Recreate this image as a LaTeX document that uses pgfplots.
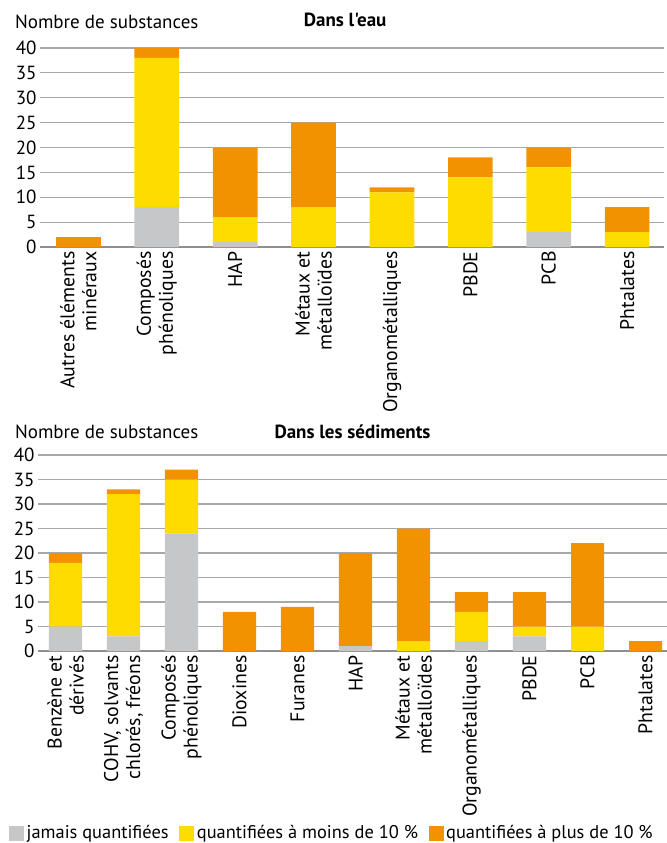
\documentclass[border=0pt]{standalone}
\usepackage{pgfplots}
\pgfplotsset{compat=1.18}
\usepackage{fontspec}
\setmainfont{PT Sans}[Ligatures=TeXOff]

\definecolor{cgris}{HTML}{C6C7C9}
\definecolor{cjaune}{HTML}{FFDC00}
\definecolor{corange}{HTML}{F39200}
\definecolor{cgrid}{HTML}{A8A8A8}

\pgfplotsset{
  substances/.style={
    ybar stacked,
    scale only axis,
    ymin=0, ymax=40,
    ytick={0,5,...,40},
    ymajorgrids,
    grid style={draw=cgrid, line width=0.6pt},
    axis x line*=bottom,
    axis y line*=left,
    y axis line style={draw=none},
    x axis line style={-, draw=cgrid!85!black, line width=0.6pt},
    major tick length=0pt,
    xtick=data,
    /pgf/number format/assume math mode=true,
    tick label style={font=\fontsize{9.5}{9}\selectfont},
    yticklabel style={inner sep=1.5pt},
    xticklabel style={rotate=90, anchor=east, align=right,
      font=\fontsize{9.9}{11}\selectfont, inner sep=2pt},
    bar width=0.57,
    ylabel={Nombre de substances},
    title style={font=\bfseries\fontsize{9.5}{9}\selectfont, anchor=center},
    legend image code/.code={\fill[##1] (0pt,-3.75pt) rectangle (7.5pt,3.75pt);},
  },
  gris/.style={fill=cgris, draw=none},
  jaune/.style={fill=cjaune, draw=none},
  orange/.style={fill=corange, draw=none},
}

\begin{document}
\begin{tikzpicture}
\useasboundingbox (0,0) rectangle (333.5pt,421.5pt);

% Dans l'eau
\begin{axis}[
    substances,
    at={(20pt,298pt)}, anchor=south west,
    width=312pt, height=99.5pt,
    xmin=-0.49, xmax=7.47,
    title={Dans l'eau},
    title style={at={(0.489,1)}, yshift=8pt},
    ylabel style={rotate=-90, at={(0,1)}, anchor=west, xshift=-16pt, yshift=13pt,
      font=\fontsize{9.5}{9}\selectfont},
    xticklabels={{Autres éléments\\minéraux},{Composés\\phénoliques},HAP,
      {Métaux et\\métalloïdes},Organométalliques,PBDE,PCB,Phtalates},
]
\addplot[gris] coordinates {(0,0)(1,8)(2,1)(3,0)(4,0)(5,0)(6,3)(7,0)};
\addplot[jaune] coordinates {(0,0)(1,30)(2,5)(3,8)(4,11)(5,14)(6,13)(7,3)};
\addplot[orange] coordinates {(0,2)(1,2)(2,14)(3,17)(4,1)(5,4)(6,4)(7,5)};
\end{axis}

% Dans les sediments
\begin{axis}[
    substances,
    at={(19pt,96pt)}, anchor=south west,
    width=314.5pt, height=98pt,
    xmin=-0.474, xmax=10.37,
    title={Dans les sédiments},
    title style={at={(0.5,1)}, yshift=5.5pt},
    ylabel style={rotate=-90, at={(0,1)}, anchor=west, xshift=-15pt, yshift=11.5pt,
      font=\fontsize{9.5}{9}\selectfont},
    xticklabels={{Benzène et\\dérivés},{COHV, solvants\\chlorés, fréons},
      {Composés\\phénoliques},Dioxines,Furanes,HAP,{Métaux et\\métalloïdes},
      Organométalliques,PBDE,PCB,Phtalates},
    legend columns=3,
    legend style={at={(-0.046,-0.93)}, anchor=west, draw=none, fill=none,
      inner sep=0pt, outer sep=0pt,
      font=\fontsize{9.2}{9}\selectfont,
      nodes={inner sep=1.3pt},
      /tikz/every even column/.append style={column sep=4pt}},
]
\addplot[gris] coordinates {(0,5)(1,3)(2,24)(3,0)(4,0)(5,1)(6,0)(7,2)(8,3)(9,0)(10,0)};
\addlegendentry{jamais quantifiées}
\addplot[jaune] coordinates {(0,13)(1,29)(2,11)(3,0)(4,0)(5,0)(6,2)(7,6)(8,2)(9,5)(10,0)};
\addlegendentry{quantifiées à moins de 10 \%}
\addplot[orange] coordinates {(0,2)(1,1)(2,2)(3,8)(4,9)(5,19)(6,23)(7,4)(8,7)(9,17)(10,2)};
\addlegendentry{quantifiées à plus de 10 \%}
\end{axis}
\end{tikzpicture}
\end{document}
